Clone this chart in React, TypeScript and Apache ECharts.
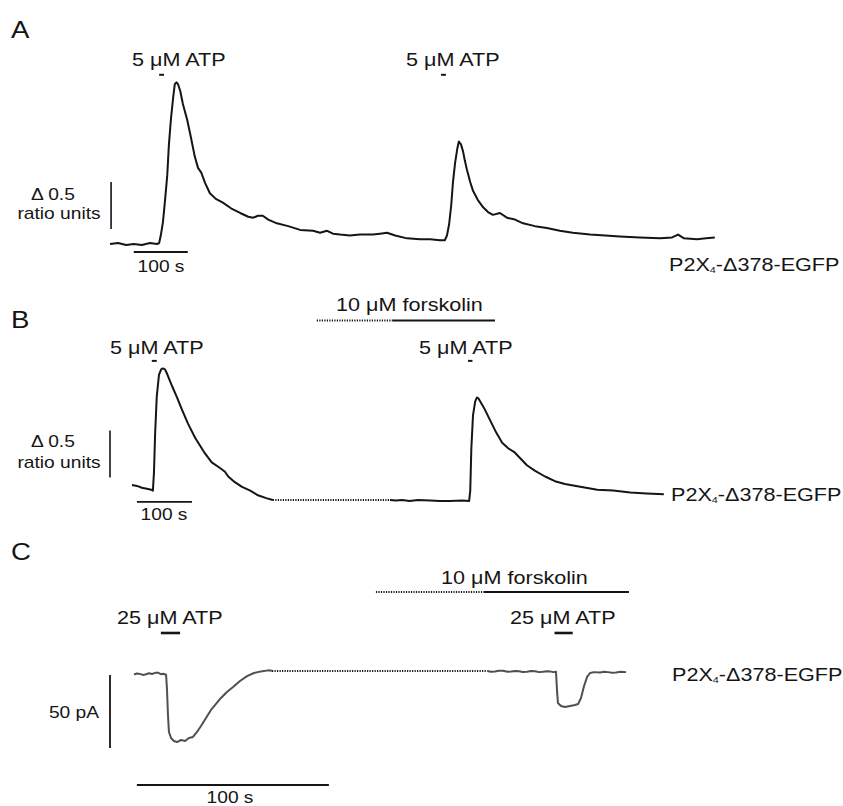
import React, { useEffect, useRef } from "react";
import * as echarts from "echarts";

const W = 843;
const H = 806;

// ---------- Panel A: ratio trace (time in s, Δ ratio units) ----------
const aTime = [0, 15, 30, 44, 59, 74, 87, 91, 94, 98, 102, 106, 109, 113, 117, 120, 123, 126, 130, 135, 143, 150, 157, 163, 169, 176, 185, 196, 209, 224, 241, 256, 265, 274, 283, 293, 309, 330, 352, 376, 389, 402, 413, 426, 444, 463, 487, 500, 513, 528, 550, 574, 593, 611, 620, 624, 628, 632, 635, 639, 643, 646, 650, 654, 657, 661, 667, 672, 681, 691, 700, 709, 722, 735, 750, 765, 787, 809, 833, 857, 889, 917, 944, 981, 1019, 1041, 1052, 1063, 1087, 1104, 1120];
const aRatio = [0, 0.01, -0.01, 0, -0.01, 0.01, 0, 0.01, 0.09, 0.23, 0.47, 0.73, 1.05, 1.34, 1.56, 1.7, 1.72, 1.7, 1.63, 1.49, 1.32, 1.13, 0.93, 0.81, 0.76, 0.65, 0.54, 0.48, 0.44, 0.38, 0.33, 0.29, 0.28, 0.3, 0.3, 0.26, 0.22, 0.19, 0.15, 0.14, 0.12, 0.14, 0.11, 0.1, 0.09, 0.1, 0.1, 0.11, 0.12, 0.09, 0.06, 0.05, 0.05, 0.04, 0.04, 0.09, 0.21, 0.42, 0.65, 0.86, 1.01, 1.09, 1.06, 0.98, 0.89, 0.79, 0.66, 0.57, 0.47, 0.39, 0.34, 0.31, 0.33, 0.28, 0.26, 0.22, 0.19, 0.17, 0.14, 0.12, 0.1, 0.09, 0.08, 0.07, 0.06, 0.07, 0.1, 0.06, 0.05, 0.06, 0.07];
const aScaleV = [[2, 0.16], [2, 0.66]];
const aScaleT = [[44, -0.085], [144, -0.085]];
const aAtp1 = [[91, 1.8], [100, 1.8]];
const aAtp2 = [[613, 1.8], [622, 1.8]];

// ---------- Panel B ----------
const bTime1 = [0, 9, 18, 27, 35, 38, 40, 42, 45, 49, 53, 56, 60, 64, 73, 82, 91, 102, 115, 131, 145, 160, 169, 175, 187, 200, 215, 229, 244, 256];
const bRatio1 = [0.16, 0.15, 0.13, 0.12, 0.11, 0.1, 0.3, 0.7, 1.1, 1.33, 1.39, 1.4, 1.39, 1.34, 1.21, 1.09, 0.96, 0.81, 0.66, 0.51, 0.4, 0.34, 0.3, 0.25, 0.19, 0.14, 0.1, 0.05, 0.02, 0];
const bGap = [[256, 0], [469, 0]];
const bTime2 = [469, 480, 491, 505, 520, 542, 560, 578, 600, 613, 615, 617, 620, 624, 627, 630, 635, 640, 651, 662, 673, 684, 695, 705, 718, 733, 751, 769, 787, 815, 846, 875, 906, 936, 967];
const bRatio2 = [0, -0.005, 0, -0.01, 0, -0.005, -0.01, -0.01, -0.005, -0.01, 0.1, 0.55, 0.9, 1.05, 1.09, 1.08, 1.03, 0.98, 0.85, 0.72, 0.61, 0.55, 0.51, 0.45, 0.37, 0.31, 0.25, 0.2, 0.17, 0.14, 0.11, 0.1, 0.08, 0.07, 0.06];
const bScaleV = [[-40, 0.24], [-40, 0.74]];
const bScaleT = [[9, -0.02], [109, -0.02]];
const bAtp1 = [[36, 1.48], [45, 1.48]];
const bAtp2 = [[611, 1.48], [619, 1.48]];
const bForskDotted = [[336, 1.91], [473, 1.91]];
const bForskSolid = [[473, 1.91], [660, 1.91]];

// ---------- Panel C: current (time in s, pA) ----------
const cTime1 = [0, 1.5, 3.1, 4.6, 6.3, 7.8, 9.4, 11, 12.5, 14, 15.1, 16.7, 17.2, 17.7, 18.2, 19.3, 20.8, 22.4, 24.5, 26.6, 28.6, 30.7, 32.8, 34.9, 37.5, 40.1, 42.7, 45.3, 48.4, 51.6, 55.2, 58.9, 62.5, 66.1, 69.8, 71.9];
const cCurrent1 = [-1.0, -0.3, -0.6, -1.3, -0.9, -0.2, -0.7, 0.1, 0.2, -0.8, -0.5, -1.2, -11.6, -28.8, -40.4, -44.5, -46.6, -47.3, -45.9, -46.6, -44.5, -43.8, -40.4, -36.3, -30.8, -25.3, -21.2, -17.1, -13, -9.6, -5.5, -2.1, 0, 1.1, 1.8, 1.6];
const cGap = [[71.9, 1.4], [183.9, 1.4]];
const cTime2 = [183.9, 186, 188, 190, 192.2, 194.5, 196.4, 198.5, 200.5, 202.5, 204.7, 206.8, 208.9, 211, 213, 215, 216.7, 218.3, 219.8, 220.3, 220.8, 222.4, 224.5, 227.1, 229.7, 231.3, 232.8, 234.4, 236, 237.5, 239.6, 242.7, 244.8, 246.9, 249, 251, 253.5, 256.3];
const cCurrent2 = [1.4, 0.9, 1.1, 1.6, 1.5, 0.8, 1.0, 1.4, 1.2, 0.7, 0.9, 1.4, 1.2, 0.6, 0.8, 1.2, 1.1, 0.6, 0.8, -11.6, -20.5, -22.6, -23.3, -22.6, -21.9, -21.2, -17.1, -8.9, -2.7, 0, 0.6, 0.3, 0.9, 0.6, 0.2, 0.4, 0.9, 0.6];
const cScaleV = [[-12.5, -1.4], [-12.5, -51.4]];
const cScaleT = [[1.5, -76.7], [101.5, -76.7]];
const cAtp1 = [[14, 27.4], [24, 27.4]];
const cAtp2 = [[219, 27.4], [228.5, 27.4]];
const cForskDotted = [[126, 55.5], [182.3, 55.5]];
const cForskSolid = [[182.3, 55.5], [257.8, 55.5]];

const zip = (t: number[], v: number[]) => t.map((x, i) => [x, v[i]]);

// panel layout: pixel of t=0, px per s, pixel of v=0, px per unit, ranges
const panels = [
  { x0: 110, kx: 0.54, y0: 244, ky: 94, tMin: 0, tMax: 1122, vMin: -0.1, vMax: 1.85 },
  { x0: 132, kx: 0.55, y0: 500, ky: 94, tMin: -40, tMax: 970, vMin: -0.05, vMax: 1.95 },
  { x0: 134, kx: 1.92, y0: 673, ky: 1.46, tMin: -12.5, tMax: 258, vMin: -78, vMax: 57 },
];

const FONT = "'Liberation Sans', Arial, Helvetica, sans-serif";
const INK = "#151515";

type Lbl = { text: string; x: number; y: number; size: number; align: "left" | "center"; sub?: boolean };
const labels: Lbl[] = [
  { text: "A", x: 11, y: 30, size: 23, align: "left" },
  { text: "5 μM ATP", x: 132, y: 60, size: 18, align: "left" },
  { text: "5 μM ATP", x: 406, y: 60, size: 18, align: "left" },
  { text: "Δ 0.5", x: 53, y: 195, size: 16, align: "center" },
  { text: "ratio units", x: 59, y: 214, size: 16, align: "center" },
  { text: "100 s", x: 161, y: 267, size: 16, align: "center" },
  { text: "P2X{s|4}-Δ378-EGFP", x: 669, y: 265, size: 18, align: "left", sub: true },
  { text: "B", x: 11, y: 320, size: 23, align: "left" },
  { text: "10 μM forskolin", x: 336, y: 305, size: 18, align: "left" },
  { text: "5 μM ATP", x: 110, y: 348, size: 18, align: "left" },
  { text: "5 μM ATP", x: 419, y: 348, size: 18, align: "left" },
  { text: "Δ 0.5", x: 53, y: 442, size: 16, align: "center" },
  { text: "ratio units", x: 59, y: 463, size: 16, align: "center" },
  { text: "100 s", x: 164, y: 515, size: 16, align: "center" },
  { text: "P2X{s|4}-Δ378-EGFP", x: 671, y: 495, size: 18, align: "left", sub: true },
  { text: "C", x: 11, y: 552, size: 23, align: "left" },
  { text: "10 μM forskolin", x: 441, y: 578, size: 18, align: "left" },
  { text: "25 μM ATP", x: 117, y: 618, size: 18, align: "left" },
  { text: "25 μM ATP", x: 510, y: 618, size: 18, align: "left" },
  { text: "50 pA", x: 74, y: 713, size: 16, align: "center" },
  { text: "100 s", x: 230, y: 798, size: 16, align: "center" },
  { text: "P2X{s|4}-Δ378-EGFP", x: 672, y: 675, size: 18, align: "left", sub: true },
];

function line(g: number, data: number[][], color: string, width: number, dash?: number[]) {
  return {
    type: "line",
    xAxisIndex: g,
    yAxisIndex: g,
    data,
    symbol: "none",
    silent: true,
    clip: false,
    lineStyle: { color, width, type: dash ? dash : "solid", join: "round" },
  };
}

function buildOption() {
  const grid = panels.map((p) => ({
    left: p.x0 + p.kx * p.tMin,
    width: p.kx * (p.tMax - p.tMin),
    top: p.y0 - p.ky * p.vMax,
    height: p.ky * (p.vMax - p.vMin),
    containLabel: false,
  }));
  const xAxis = panels.map((p, i) => ({ type: "value", gridIndex: i, min: p.tMin, max: p.tMax, show: false }));
  const yAxis = panels.map((p, i) => ({ type: "value", gridIndex: i, min: p.vMin, max: p.vMax, show: false }));
  const dots = [1.2, 1.3];
  const series = [
    line(0, zip(aTime, aRatio), INK, 2),
    line(0, aScaleV, INK, 1.6),
    line(0, aScaleT, INK, 1.8),
    line(0, aAtp1, INK, 2),
    line(0, aAtp2, INK, 2),
    line(1, zip(bTime1, bRatio1), INK, 2),
    line(1, bGap, INK, 2, dots),
    line(1, zip(bTime2, bRatio2), INK, 2),
    line(1, bScaleV, INK, 1.6),
    line(1, bScaleT, INK, 1.8),
    line(1, bAtp1, INK, 2),
    line(1, bAtp2, INK, 2),
    line(1, bForskDotted, INK, 2, dots),
    line(1, bForskSolid, INK, 2),
    line(2, zip(cTime1, cCurrent1), "#505050", 2),
    line(2, cGap, INK, 2, dots),
    line(2, zip(cTime2, cCurrent2), "#505050", 2),
    line(2, cScaleV, INK, 1.8),
    line(2, cScaleT, INK, 2),
    line(2, cAtp1, INK, 2.6),
    line(2, cAtp2, INK, 2.6),
    line(2, cForskDotted, INK, 2, dots),
    line(2, cForskSolid, INK, 2),
  ];
  const graphic = labels.map((l) => ({
    type: "text",
    x: l.x,
    y: l.y,
    scaleX: 1.2,
    silent: true,
    style: {
      text: l.text,
      font: `${l.size}px ${FONT}`,
      fill: INK,
      textAlign: l.align,
      textVerticalAlign: "middle",
      rich: l.sub
        ? {
            s: { fontSize: 9, fontFamily: FONT, fill: INK, verticalAlign: "bottom" },
          }
        : undefined,
    },
  }));
  return {
    animation: false,
    backgroundColor: "#ffffff",
    grid,
    xAxis,
    yAxis,
    series,
    graphic,
  };
}

export default function App() {
  const ref = useRef<HTMLDivElement>(null);
  useEffect(() => {
    document.body.style.margin = "0";
    const chart = echarts.init(ref.current as HTMLDivElement, null, { renderer: "svg", width: W, height: H });
    chart.setOption(buildOption() as any);
    return () => chart.dispose();
  }, []);
  return <div ref={ref} style={{ position: "absolute", left: 0, top: 0, width: W, height: H, background: "#fff" }} />;
}
